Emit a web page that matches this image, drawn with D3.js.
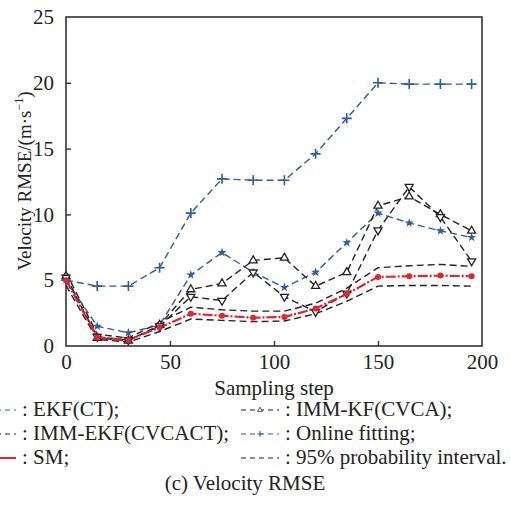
<!DOCTYPE html>
<html>
<head>
<meta charset="utf-8">
<script src="https://cdn.jsdelivr.net/npm/d3@7"></script>
<style>
  body { margin: 0; background: #fff; }
</style>
</head>
<body>
<svg id="chart" width="511" height="516"></svg>
<script>
// sampling steps
var steps = [0, 15, 30, 45, 60, 75, 90, 105, 120, 135, 150, 165, 180, 195];

var ekfCT      = [5.0, 1.5, 1.0, 1.6, 5.4, 7.1, 5.6, 4.45, 5.6, 7.85, 10.1, 9.35, 8.75, 8.25];
var immKF      = [5.3, 0.6, 0.4, 1.6, 4.3, 4.75, 6.5, 6.7, 4.55, 5.6, 10.65, 11.35, 10.0, 8.75];
var immEKF     = [5.2, 0.7, 0.45, 1.5, 3.75, 3.45, 5.6, 3.75, 2.6, 4.0, 8.8, 12.1, 9.8, 6.45];
var onlineFit  = [5.0, 4.55, 4.55, 5.95, 10.1, 12.7, 12.6, 12.6, 14.6, 17.3, 20.0, 19.9, 19.9, 19.9];
var sm         = [5.0, 0.65, 0.45, 1.4, 2.45, 2.3, 2.15, 2.2, 2.85, 3.95, 5.25, 5.3, 5.35, 5.3];
var upper95    = [5.6, 0.9, 0.6, 1.8, 2.95, 2.75, 2.65, 2.65, 3.25, 4.4, 5.95, 6.1, 6.2, 6.05];
var lower95    = [4.6, 0.5, 0.3, 1.1, 2.05, 1.95, 1.85, 1.9, 2.45, 3.4, 4.55, 4.6, 4.6, 4.55];

var xTicks = [0, 50, 100, 150, 200];
var yTicks = [0, 5, 10, 15, 20, 25];

var BLUE = '#2b5ca8', RED = '#e8232a', BLACK = '#222',
    FONT = '"Liberation Serif", "Times New Roman", Times, serif',
    FS = 21;

var margin = { left: 66, top: 17, right: 29, bottom: 170 },
    W = 511, H = 516,
    svg = d3.select('#chart').attr('font-family', FONT);

var x = d3.scaleLinear().domain([0, 200]).range([margin.left, W - margin.right]);
var y = d3.scaleLinear().domain([0, 25]).range([H - margin.bottom, margin.top]);

function txt(sel) {
    return sel.style('font-family', FONT).attr('fill', '#222');
}

// frame
svg.append('rect')
    .attr('x', x(0)).attr('y', y(25))
    .attr('width', x(200) - x(0)).attr('height', y(0) - y(25))
    .attr('fill', 'none').attr('stroke', '#333').attr('stroke-width', 1.6);

// axes, ticks inside
var xAxis = svg.append('g')
    .attr('transform', 'translate(0,' + y(0) + ')')
    .call(d3.axisBottom(x).tickValues(xTicks).tickSizeInner(-5).tickSizeOuter(0).tickPadding(8));
var yAxis = svg.append('g')
    .attr('transform', 'translate(' + x(0) + ',0)')
    .call(d3.axisLeft(y).tickValues(yTicks).tickSizeInner(-5).tickSizeOuter(0).tickPadding(12));

[xAxis, yAxis].forEach(function(ax) {
    ax.attr('font-family', FONT).attr('font-size', FS);
    ax.select('.domain').remove();
    ax.selectAll('line').attr('stroke', '#333').attr('stroke-width', 1.4);
    txt(ax.selectAll('text')).attr('font-size', FS);
});
// no tick marks at the frame corners
xAxis.selectAll('.tick').filter(function(d) { return d === 0 || d === 200; }).select('line').remove();
yAxis.selectAll('.tick').filter(function(d) { return d === 0 || d === 25; }).select('line').remove();

txt(svg.append('text'))
    .attr('x', x(100)).attr('y', 395)
    .attr('text-anchor', 'middle').attr('font-size', FS)
    .text('Sampling step');

var yl = txt(svg.append('text'))
    .attr('transform', 'translate(31,' + 181 + ') rotate(-90)')
    .attr('text-anchor', 'middle').attr('font-size', 19);
yl.append('tspan').text('Velocity RMSE/(m·s');
yl.append('tspan').attr('font-size', 12).attr('dy', -8).text('−1');
yl.append('tspan').attr('dy', 8).text(')');

// series
var line = d3.line()
    .x(function(d, i) { return x(steps[i]); })
    .y(function(d) { return y(d); });

function drawSeries(values, color, dash, width) {
    svg.append('path')
        .datum(values)
        .attr('d', line)
        .attr('fill', 'none')
        .attr('stroke', color)
        .attr('stroke-width', width)
        .attr('stroke-dasharray', dash);
}

function drawMarker(g, type, color) {
    if (type === 'star') {
        g.append('path').attr('d', d3.symbol(d3.symbolStar, 26)).attr('fill', color);
    } else if (type === 'plus') {
        g.append('path').attr('d', 'M-5,0H5M0,-5V5').attr('stroke', color).attr('stroke-width', 1.6);
    } else if (type === 'up' || type === 'down') {
        g.append('path').attr('d', d3.symbol(d3.symbolTriangle, 28))
            .attr('transform', type === 'down' ? 'rotate(180)' : null)
            .attr('fill', '#fff').attr('stroke', color).attr('stroke-width', 1.3);
    } else if (type === 'dot') {
        g.append('circle').attr('r', 3).attr('fill', color);
    }
}

function drawMarkers(values, type, color) {
    values.forEach(function(v, i) {
        var g = svg.append('g').attr('transform', 'translate(' + x(steps[i]) + ',' + y(v) + ')');
        drawMarker(g, type, color);
    });
}

drawSeries(upper95, BLACK, '7,4', 1.4);
drawSeries(lower95, BLACK, '7,4', 1.4);
drawSeries(onlineFit, BLUE, '7,4', 1.4);
drawSeries(ekfCT, BLUE, '7,4', 1.4);
drawSeries(immKF, BLACK, '7,4', 1.4);
drawSeries(immEKF, BLACK, '7,4', 1.4);
drawSeries(sm, RED, '10,2,2,2', 2.2);

drawMarkers(onlineFit, 'plus', BLUE);
drawMarkers(ekfCT, 'star', BLUE);
drawMarkers(immKF, 'up', BLACK);
drawMarkers(immEKF, 'down', BLACK);
drawMarkers(sm, 'dot', RED);

// legend
var legendItems = [
    { label: ': EKF(CT);', color: BLUE, marker: 'star', dash: '5,4', x: -22, row: 0 },
    { label: ': IMM-EKF(CVCACT);', color: BLACK, marker: 'down', dash: '5,4', x: -22, row: 1 },
    { label: ': SM;', color: RED, marker: 'dot', dash: null, x: -22, row: 2 },
    { label: ': IMM-KF(CVCA);', color: BLACK, marker: 'up', dash: '5,4', x: 241, row: 0 },
    { label: ': Online fitting;', color: BLUE, marker: 'plus', dash: '5,4', x: 241, row: 1 },
    { label: ': 95% probability interval.', color: BLACK, marker: null, dash: '5,4', x: 241, row: 2 }
];
var rowY = [410, 434, 458];

legendItems.forEach(function(d) {
    var g = svg.append('g').attr('transform', 'translate(' + d.x + ',' + rowY[d.row] + ')');
    g.append('line')
        .attr('x1', 0).attr('x2', 38).attr('y1', 0).attr('y2', 0)
        .attr('stroke', d.color).attr('stroke-width', d.color === RED ? 2 : 1.2)
        .attr('stroke-dasharray', d.dash);
    if (d.marker) {
        var m = g.append('g').attr('transform', 'translate(19,0) scale(0.6)');
        drawMarker(m, d.marker, d.color);
    }
    txt(g.append('text'))
        .attr('x', 44).attr('y', 6)
        .attr('font-size', FS)
        .text(d.label);
});

txt(svg.append('text'))
    .attr('x', 245).attr('y', 490)
    .attr('text-anchor', 'middle').attr('font-size', FS)
    .text('(c) Velocity RMSE');
</script>
</body>
</html>
